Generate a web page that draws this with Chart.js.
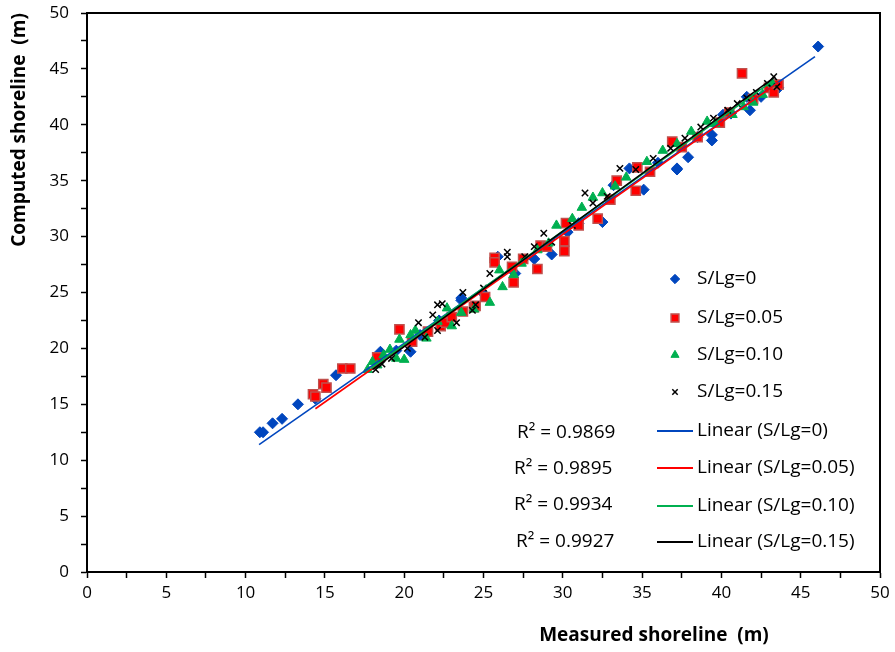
<!DOCTYPE html>
<html>
<head>
<meta charset="utf-8">
<script src="https://cdn.jsdelivr.net/npm/chart.js@4"></script>
<style>
  html, body { margin: 0; padding: 0; background: #fff; }
  #wrap { width: 895px; height: 652px; }
</style>
</head>
<body>
<div id="wrap"><canvas id="shoreChart"></canvas></div>
<script>
// ---- data ----
const seriesNames = ['S/Lg=0', 'S/Lg=0.05', 'S/Lg=0.10', 'S/Lg=0.15'];

const x0 = [10.9, 11.1, 11.7, 12.3, 13.3, 14.4, 15.7, 18.5, 19.5, 20.4, 21.0, 22.2, 23.6, 23.6, 25.0, 25.9, 27.0, 28.2, 29.3, 30.3,
            31.0, 32.5, 33.2, 34.2, 35.1, 36.0, 37.2, 37.2, 37.9, 38.5, 39.4, 39.4, 40.1, 40.6, 41.6, 41.8, 42.5, 43.4, 43.6, 46.1];
const y0 = [12.5, 12.5, 13.3, 13.7, 15.0, 15.5, 17.6, 19.7, 19.8, 19.7, 21.2, 22.5, 24.3, 24.5, 24.9, 28.2, 26.7, 28.0, 28.4, 30.4,
            31.2, 31.3, 34.6, 36.1, 34.2, 36.6, 36.1, 36.0, 37.1, 38.9, 39.1, 38.6, 40.9, 41.0, 42.5, 41.3, 42.5, 43.6, 43.3, 47.0];

const x05 = [14.25, 14.4, 14.9, 15.1, 16.1, 16.6, 18.3, 19.7, 20.5, 21.5, 22.3, 22.6, 23.0, 23.7, 24.4, 24.5, 25.1, 25.7, 25.7, 26.8,
             26.9, 27.5, 28.4, 28.6, 29.0, 30.1, 30.1, 30.2, 31.0, 32.2, 33.0, 33.4, 34.6, 34.7, 35.5, 36.9, 37.5, 38.5, 39.9, 40.5,
             41.3, 42.0, 43.0, 43.3, 43.6];
const y05 = [15.9, 15.7, 16.8, 16.5, 18.2, 18.2, 19.2, 21.7, 20.6, 21.5, 22.0, 22.3, 22.8, 23.3, 23.7, 23.8, 24.6, 28.1, 27.7, 27.3,
             25.9, 28.0, 27.1, 29.2, 29.1, 29.6, 28.7, 31.2, 31.0, 31.6, 33.3, 35.0, 34.1, 36.2, 35.8, 38.5, 38.0, 38.9, 40.2, 41.1,
             44.6, 42.3, 43.3, 42.9, 43.6];

const x10 = [17.7, 18.0, 18.3, 18.7, 19.1, 19.5, 19.7, 20.0, 20.4, 20.7, 21.4, 22.1, 22.7, 23.0, 23.6, 24.4, 25.4, 26.0, 26.2, 26.9,
             27.4, 28.4, 29.1, 29.6, 30.6, 31.2, 31.9, 32.5, 33.3, 34.0, 35.3, 36.3, 37.2, 38.1, 39.1, 39.6, 40.7, 41.4, 42.0, 42.6, 43.2];
const y10 = [18.1, 18.8, 18.5, 19.4, 19.9, 19.1, 20.8, 19.0, 21.2, 21.6, 20.9, 22.4, 23.6, 22.0, 23.2, 23.5, 24.1, 27.0, 25.5, 26.6,
             27.6, 28.8, 29.4, 31.0, 31.6, 32.6, 33.5, 33.9, 34.5, 35.3, 36.7, 37.7, 38.3, 39.4, 40.3, 40.1, 40.9, 41.6, 42.0, 42.7, 43.7];

const x15 = [18.2, 18.6, 19.2, 20.2, 20.9, 21.3, 21.8, 22.1, 22.1, 22.4, 23.3, 23.7, 24.3, 24.5, 25.0, 25.4, 26.5, 26.5, 27.6, 28.2,
             28.8, 29.3, 30.6, 31.4, 31.9, 32.8, 33.6, 34.6, 35.7, 36.8, 37.7, 38.7, 39.5, 40.4, 41.0, 41.6, 42.2, 42.9, 43.3, 43.5];
const y15 = [18.1, 18.6, 19.1, 20.0, 22.3, 21.0, 23.0, 21.6, 23.9, 24.0, 22.3, 25.0, 23.4, 23.9, 25.4, 26.7, 28.6, 28.2, 28.2, 29.1,
             30.3, 29.5, 31.0, 33.9, 33.0, 33.6, 36.1, 36.0, 37.0, 37.9, 38.8, 39.8, 40.6, 41.3, 41.9, 42.4, 42.9, 43.7, 44.3, 43.4];

// trendline end points (as drawn in the figure)
const trendStartX = [10.85, 14.4, 17.9, 18.0];
const trendStartY = [11.4, 14.6, 18.2, 18.1];
const trendEndX = [45.9, 43.6, 43.3, 43.4];
const trendEndY = [46.1, 43.8, 44.0, 44.3];
const rSquared = ['0.9869', '0.9895', '0.9934', '0.9927'];

const xTitle = 'Measured shoreline  (m)';
const yTitle = 'Computed shoreline  (m)';

// ---- styles ----
const FONT = '"Open Sans", Lato, sans-serif';
const blue = '#0046BE', red = '#FF0000', green = '#00B050', black = '#000000';
const markerStyles = [
    { pointStyle: 'rectRot', radius: 5.5, fill: blue, stroke: blue, borderWidth: 1 },
    { pointStyle: 'rect', radius: 6.5, fill: red, stroke: '#C0504D', borderWidth: 1.5 },
    { pointStyle: 'triangle', radius: 5.5, fill: green, stroke: green, borderWidth: 1 },
    { pointStyle: 'crossRot', radius: 4.5, fill: black, stroke: black, borderWidth: 1.5 }
];
const lineColors = [blue, red, green, black];

function toPoints(xs, ys) {
    return xs.map((x, i) => ({ x: x, y: ys[i] }));
}

const seriesX = [x0, x05, x10, x15];
const seriesY = [y0, y05, y10, y15];

const datasets = [];
seriesNames.forEach((name, i) => {
    const m = markerStyles[i];
    datasets.push({
        type: 'scatter',
        label: name,
        data: toPoints(seriesX[i], seriesY[i]),
        pointStyle: m.pointStyle,
        pointRadius: m.radius,
        pointHoverRadius: m.radius,
        backgroundColor: m.fill,
        borderColor: m.stroke,
        pointBorderWidth: m.borderWidth,
        order: 8 - i
    });
});
seriesNames.forEach((name, i) => {
    datasets.push({
        type: 'line',
        label: 'Linear (' + name + ')',
        data: [{ x: trendStartX[i], y: trendStartY[i] }, { x: trendEndX[i], y: trendEndY[i] }],
        borderColor: lineColors[i],
        borderWidth: 1.6,
        pointRadius: 0,
        fill: false,
        order: 4 - i
    });
});

// frame, axis titles, legend and R² labels
const decorPlugin = {
    id: 'decor',
    afterDraw(chart) {
        const c = chart.ctx;
        const a = chart.chartArea;
        c.save();
        // plot frame
        c.strokeStyle = '#000';
        c.lineWidth = 2;
        c.strokeRect(a.left, a.top, a.right - a.left, a.bottom - a.top);

        // axis titles
        c.fillStyle = '#000';
        c.font = 'bold 19px ' + FONT;
        c.textAlign = 'center';
        c.textBaseline = 'middle';
        c.fillText(xTitle, 654, 636);
        c.save();
        c.translate(20, 130);
        c.rotate(-Math.PI / 2);
        c.fillText(yTitle, 0, 0);
        c.restore();

        // legend: markers
        const rowsMarker = [279, 318, 355, 392];
        const rowsLine = [431, 468, 506, 542];
        c.font = '19px ' + FONT;
        c.textAlign = 'left';
        seriesNames.forEach((name, i) => {
            const m = markerStyles[i];
            c.fillStyle = m.fill;
            c.strokeStyle = m.stroke;
            c.lineWidth = m.borderWidth;
            Chart.helpers.drawPoint(c, { pointStyle: m.pointStyle, radius: m.radius * 0.85, borderWidth: m.borderWidth, rotation: 0 }, 675, rowsMarker[i]);
            c.fillStyle = '#000';
            c.fillText(name, 697, rowsMarker[i]);
        });
        // legend: trendlines
        seriesNames.forEach((name, i) => {
            c.strokeStyle = lineColors[i];
            c.lineWidth = 2;
            c.beginPath();
            c.moveTo(657, rowsLine[i]);
            c.lineTo(693, rowsLine[i]);
            c.stroke();
            c.fillStyle = '#000';
            c.fillText('Linear (' + name + ')', 697, rowsLine[i]);
        });
        // R² labels
        const r2X = [517, 514, 514, 516];
        const r2Y = [433, 469, 505, 542];
        rSquared.forEach((r, i) => {
            c.fillText('R\u00B2 = ' + r, r2X[i], r2Y[i]);
        });
        c.restore();
    }
};

const axisCommon = {
    type: 'linear',
    min: 0,
    max: 50,
    ticks: {
        stepSize: 2.5,
        autoSkip: false,
        maxRotation: 0,
        color: '#000',
        font: { family: FONT, size: 17 },
        callback: v => (v % 5 === 0 ? v : '')
    },
    grid: {
        drawOnChartArea: false,
        drawTicks: true,
        tickLength: 6,
        tickColor: '#000',
        tickWidth: 1.5
    },
    border: { display: true, color: '#000', width: 2 }
};

new Chart(document.getElementById('shoreChart'), {
    data: { datasets: datasets },
    options: {
        responsive: true,
        maintainAspectRatio: false,
        animation: false,
        layout: { padding: { top: 13, right: 15, left: 0, bottom: 0 } },
        scales: {
            x: Object.assign({}, axisCommon, {
                position: 'bottom',
                ticks: Object.assign({}, axisCommon.ticks, { padding: 5 }),
                afterFit: s => { s.height = 80; s.paddingLeft = 0; s.paddingRight = 0; }
            }),
            y: Object.assign({}, axisCommon, {
                position: 'left',
                ticks: Object.assign({}, axisCommon.ticks, { padding: 12 }),
                afterFit: s => { s.width = 87; s.paddingTop = 0; s.paddingBottom = 0; }
            })
        },
        plugins: {
            legend: { display: false },
            tooltip: { enabled: false }
        }
    },
    plugins: [decorPlugin]
});
</script>
</body>
</html>
